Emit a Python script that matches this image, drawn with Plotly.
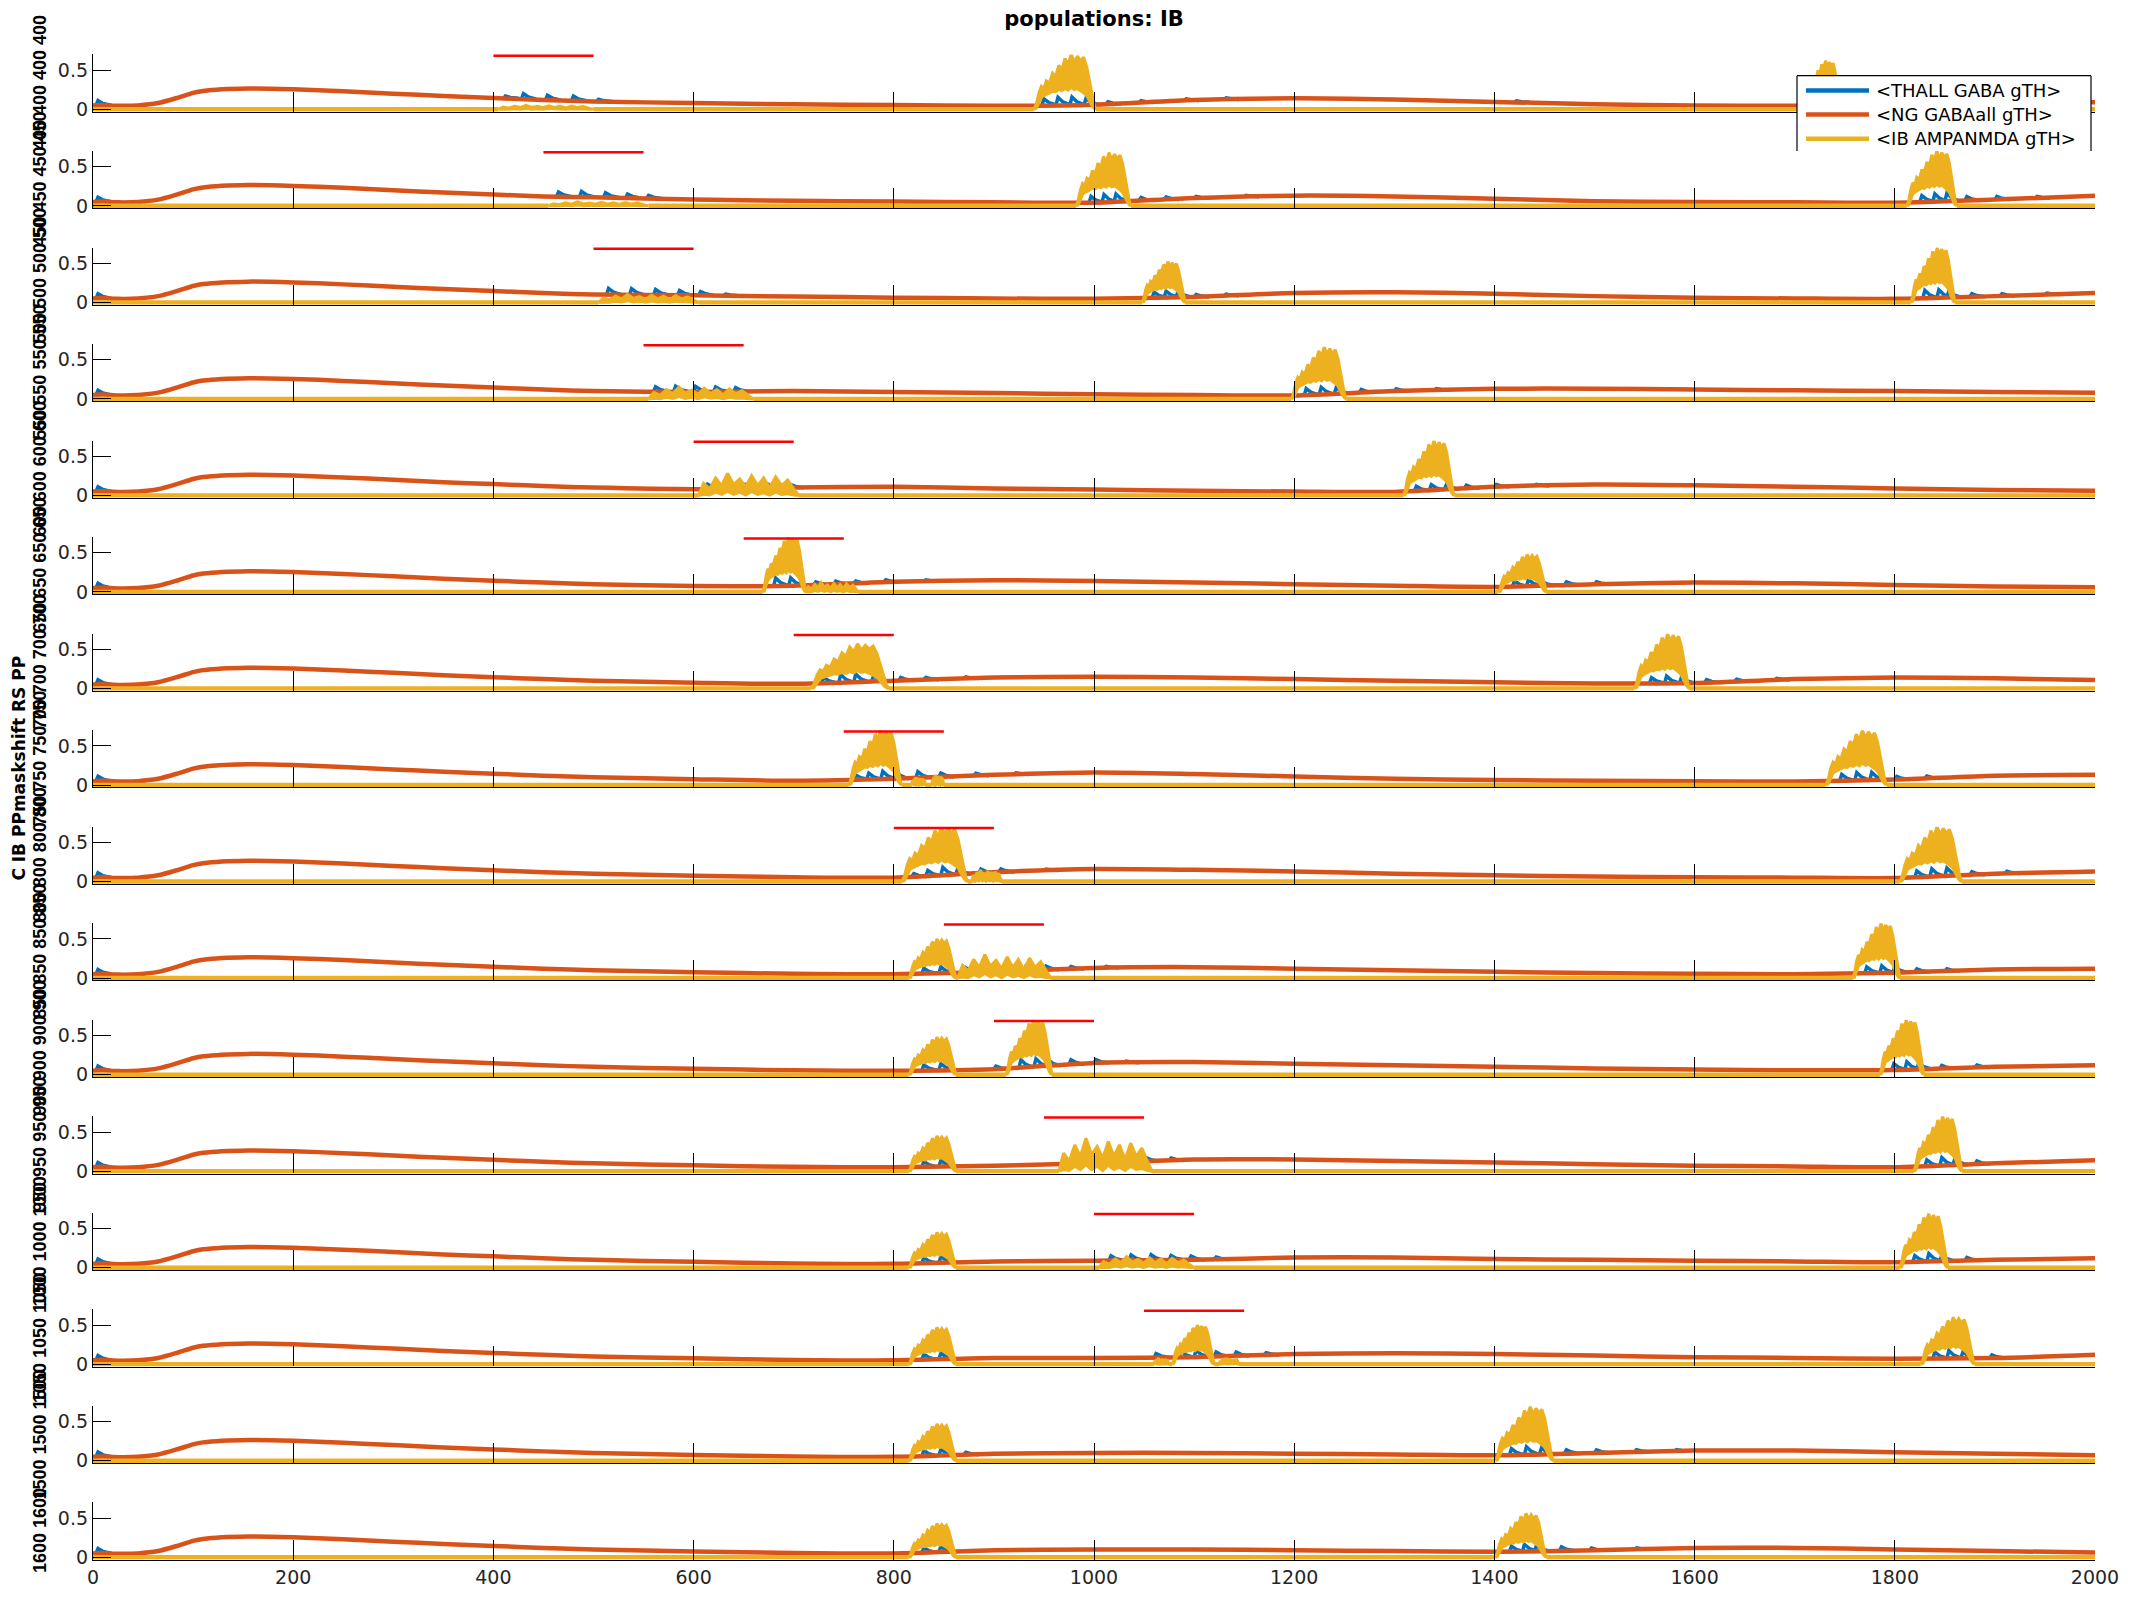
"""
populations: IB -- stacked gTH conductance traces, one panel per stimulus shift.

Each panel: THALL GABA (blue), NG GABAall (orange), IB AMPANMDA (yellow),
with the 100 ms stimulus window drawn as a red bar on top of the panel.
"""

import numpy as np
import plotly.graph_objects as go

# ---------------------------------------------------------------------------
# FIGURE GEOMETRY
# (the page body keeps its default 8px margin, so the figure is 8px smaller
#  and every pixel position below is given in window pixels)
# ---------------------------------------------------------------------------
PAGE_PAD = 8
FIG_W, FIG_H = 2133 - PAGE_PAD, 1600 - PAGE_PAD
M_LEFT, M_RIGHT, M_TOP, M_BOTTOM = 93 - PAGE_PAD, 38, 54 - PAGE_PAD, 16
PANEL_TOP_PX = 54.5
PANEL_STEP_PX = 98.07
PANEL_H_PX = 58.1
X_RANGE = [0, 2000]
Y_RANGE = [-0.03, 0.7]

BLUE = "#0072BD"
ORANGE = "#D95319"
YELLOW = "#EDB120"
RED = "#FF0000"
TXT = "#262626"
FONT = "DejaVu Sans"

# ---------------------------------------------------------------------------
# DATA
# ---------------------------------------------------------------------------
N_PANELS = 16
PANEL_VALUES = [400, 450, 500, 550, 600, 650, 700, 750, 800, 850, 900, 950,
                1000, 1050, 1500, 1600]
PANEL_LABEL_REPEAT = [4, 4, 4, 4, 4, 4, 4, 4, 4, 4, 4, 4, 3, 3, 3, 2]
STIM_ON = [400, 450, 500, 550, 600, 650, 700, 750, 800, 850, 900, 950,
           1000, 1050, None, None]
STIM_LEN = 100
STIM_LEVEL = 0.7

X_TICKS = [0, 200, 400, 600, 800, 1000, 1200, 1400, 1600, 1800, 2000]
Y_TICKS = [0, 0.5]
Y_TICKTEXT = ["0", "0.5"]

# orange (NG GABAall) sampled at these times
T_ORANGE = [0, 10, 25, 45, 65, 85, 100, 110, 155, 200, 250, 300, 350, 400,
            450, 500, 600, 700, 800, 900, 1000, 1100, 1200, 1300, 1400,
            1500, 1600, 1700, 1800, 1900, 2000]
ORANGE_EARLY = [0.05, 0.055, 0.045, 0.05, 0.08, 0.15, 0.21, 0.235, 0.265,
                0.255, 0.23, 0.2, 0.17, 0.145]
ORANGE_LATE = [
    [0.12, 0.10, 0.08, 0.065, 0.055, 0.045, 0.06, 0.12, 0.14, 0.125, 0.095, 0.065, 0.05, 0.045, 0.06, 0.09, 0.09],
    [0.12, 0.11, 0.08, 0.065, 0.055, 0.045, 0.04, 0.10, 0.13, 0.12, 0.09, 0.06, 0.05, 0.045, 0.04, 0.08, 0.13],
    [0.12, 0.10, 0.09, 0.075, 0.06, 0.05, 0.045, 0.07, 0.12, 0.13, 0.11, 0.08, 0.06, 0.05, 0.045, 0.08, 0.12],
    [0.12, 0.10, 0.09, 0.10, 0.09, 0.075, 0.06, 0.05, 0.045, 0.10, 0.13, 0.13, 0.12, 0.11, 0.10, 0.09, 0.08],
    [0.12, 0.10, 0.08, 0.10, 0.11, 0.09, 0.075, 0.06, 0.05, 0.045, 0.11, 0.14, 0.13, 0.11, 0.09, 0.07, 0.06],
    [0.12, 0.10, 0.075, 0.08, 0.13, 0.15, 0.14, 0.12, 0.10, 0.08, 0.065, 0.10, 0.12, 0.11, 0.09, 0.07, 0.06],
    [0.12, 0.10, 0.075, 0.06, 0.10, 0.14, 0.15, 0.14, 0.12, 0.10, 0.08, 0.065, 0.07, 0.12, 0.14, 0.13, 0.11],
    [0.12, 0.10, 0.075, 0.055, 0.08, 0.13, 0.16, 0.14, 0.11, 0.08, 0.065, 0.055, 0.05, 0.045, 0.07, 0.12, 0.13],
    [0.12, 0.10, 0.075, 0.055, 0.05, 0.12, 0.16, 0.15, 0.13, 0.10, 0.08, 0.065, 0.055, 0.05, 0.045, 0.10, 0.13],
    [0.12, 0.10, 0.075, 0.055, 0.05, 0.08, 0.13, 0.14, 0.12, 0.10, 0.08, 0.065, 0.055, 0.05, 0.07, 0.11, 0.12],
    [0.12, 0.10, 0.075, 0.055, 0.05, 0.07, 0.15, 0.16, 0.14, 0.12, 0.10, 0.08, 0.065, 0.055, 0.06, 0.10, 0.12],
    [0.12, 0.10, 0.075, 0.055, 0.05, 0.07, 0.10, 0.15, 0.15, 0.13, 0.11, 0.09, 0.07, 0.06, 0.05, 0.10, 0.14],
    [0.12, 0.10, 0.075, 0.055, 0.05, 0.08, 0.09, 0.10, 0.13, 0.13, 0.11, 0.10, 0.09, 0.08, 0.07, 0.10, 0.12],
    [0.12, 0.10, 0.075, 0.055, 0.05, 0.08, 0.08, 0.09, 0.13, 0.14, 0.13, 0.11, 0.09, 0.08, 0.07, 0.08, 0.12],
    [0.12, 0.10, 0.075, 0.055, 0.05, 0.09, 0.10, 0.10, 0.09, 0.08, 0.07, 0.10, 0.13, 0.13, 0.11, 0.09, 0.07],
    [0.12, 0.10, 0.075, 0.055, 0.05, 0.09, 0.10, 0.10, 0.09, 0.08, 0.07, 0.09, 0.12, 0.12, 0.10, 0.08, 0.06],
]

# yellow (IB AMPANMDA) bursts: (start ms, end ms, peak, shape)
YELLOW_BURSTS = [
    [(405, 500, 0.05, "low"), (940, 1002, 0.70, "big"), (1708, 1746, 0.62, "big")],
    [(455, 555, 0.05, "low"), (982, 1037, 0.68, "big"), (1812, 1862, 0.70, "big")],
    [(505, 605, 0.10, "low"), (1048, 1091, 0.52, "big"), (1816, 1860, 0.70, "big")],
    [(555, 660, 0.15, "low"), (1197, 1252, 0.66, "big")],
    [(605, 705, 0.28, "low"), (1309, 1360, 0.70, "big")],
    [(669, 712, 0.70, "big"), (712, 765, 0.12, "low"), (1404, 1452, 0.48, "big")],
    [(717, 795, 0.57, "big"), (1540, 1595, 0.70, "big")],
    [(755, 808, 0.70, "big"), (818, 832, 0.10, "low"), (838, 850, 0.13, "low"), (1731, 1792, 0.70, "big")],
    [(808, 874, 0.70, "big"), (878, 908, 0.15, "low"), (1805, 1867, 0.70, "big")],
    [(815, 862, 0.50, "big"), (864, 957, 0.30, "low"), (1758, 1805, 0.70, "big")],
    [(815, 862, 0.48, "big"), (912, 958, 0.70, "big"), (1785, 1829, 0.70, "big")],
    [(815, 862, 0.45, "big"), (965, 1058, 0.42, "low"), (1819, 1867, 0.70, "big")],
    [(815, 862, 0.45, "big"), (1005, 1100, 0.14, "low"), (1805, 1853, 0.69, "big")],
    [(815, 862, 0.47, "big"), (1060, 1075, 0.08, "low"), (1078, 1120, 0.50, "big"),
     (1125, 1145, 0.08, "low"), (1826, 1880, 0.60, "big")],
    [(815, 862, 0.47, "big"), (1401, 1459, 0.69, "big")],
    [(815, 862, 0.43, "big"), (1401, 1452, 0.56, "big")],
]

# burst outlines, read from one large burst (panel 8) and one noisy plateau (panel 10)
BIG_S = [0, .04, .08, .12, .16, .2, .25, .3, .35, .4, .45, .5, .55, .6, .65, .7, .75, .8, .85, .9, .94, .97, 1.0]
BIG_U = [0, .1, .3, .42, .38, .52, .48, .66, .6, .8, .72, .93, .82, 1.0, .86, .97, .88, .95, .78, .5, .25, .08, 0]
BIG_L = [0, .02, .12, .22, .25, .28, .3, .33, .32, .36, .34, .38, .35, .4, .36, .38, .34, .3, .25, .15, .06, .02, 0]
LOW_S = [0, .05, .11, .17, .23, .29, .35, .41, .47, .53, .59, .65, .71, .77, .83, .89, .95, 1.0]
LOW_U = [0, .55, .3, .8, .45, 1.0, .5, .75, .4, .9, .45, .8, .35, .85, .45, .7, .3, 0]
LOW_L = [0, .05, .02, .15, .05, .2, .05, .15, .02, .18, .05, .12, .02, .15, .05, .08, .02, 0]

# blue (THALL GABA) spikes: (time ms, height above the orange trace)
BLUE_SPIKES = [
    [(3, 0.06), (410, 0.03), (428, 0.07), (452, 0.06), (478, 0.06), (503, 0.03), (948, 0.08), (962, 0.1),
     (976, 0.1), (990, 0.08), (1012, 0.03), (1045, 0.025), (1090, 0.02), (1130, 0.02), (1420, 0.02),
     (1720, 0.08), (1735, 0.08), (1760, 0.03), (1800, 0.02)],
    [(3, 0.06), (463, 0.06), (486, 0.07), (510, 0.06), (532, 0.05), (553, 0.04), (995, 0.08), (1008, 0.1),
     (1020, 0.1), (1045, 0.04), (1070, 0.03), (1100, 0.02), (1150, 0.02), (1825, 0.08), (1838, 0.1),
     (1850, 0.1), (1870, 0.05), (1900, 0.04), (1940, 0.02)],
    [(3, 0.06), (513, 0.08), (536, 0.08), (560, 0.07), (584, 0.06), (605, 0.05), (630, 0.02), (1058, 0.07),
     (1070, 0.08), (1082, 0.08), (1100, 0.03), (1130, 0.02), (1828, 0.1), (1842, 0.1), (1852, 0.08),
     (1875, 0.04), (1905, 0.03), (1950, 0.02)],
    [(3, 0.06), (560, 0.06), (580, 0.07), (600, 0.07), (620, 0.06), (640, 0.05), (1210, 0.08), (1225, 0.09),
     (1240, 0.08), (1265, 0.04), (1300, 0.03), (1340, 0.02)],
    [(3, 0.06), (612, 0.06), (630, 0.05), (650, 0.05), (672, 0.05), (695, 0.04), (1320, 0.06), (1335, 0.07),
     (1350, 0.06), (1370, 0.04), (1400, 0.03), (1440, 0.02)],
    [(3, 0.06), (680, 0.1), (695, 0.1), (720, 0.04), (740, 0.04), (760, 0.03), (790, 0.03), (830, 0.02),
     (1418, 0.07), (1432, 0.08), (1445, 0.06), (1470, 0.04), (1500, 0.03)],
    [(3, 0.06), (728, 0.07), (745, 0.1), (760, 0.1), (778, 0.08), (805, 0.04), (830, 0.03), (870, 0.02),
     (1555, 0.07), (1570, 0.09), (1585, 0.08), (1610, 0.04), (1640, 0.03), (1680, 0.02)],
    [(3, 0.06), (760, 0.06), (773, 0.08), (787, 0.1), (800, 0.1), (822, 0.08), (845, 0.05), (880, 0.03),
     (920, 0.02), (1745, 0.08), (1760, 0.1), (1775, 0.1), (1800, 0.04), (1830, 0.03)],
    [(3, 0.06), (818, 0.04), (832, 0.07), (847, 0.1), (862, 0.08), (885, 0.05), (905, 0.04), (950, 0.02),
     (1820, 0.08), (1835, 0.1), (1850, 0.1), (1875, 0.04), (1910, 0.03)],
    [(3, 0.06), (828, 0.07), (845, 0.08), (870, 0.06), (890, 0.07), (910, 0.06), (930, 0.06), (950, 0.05),
     (975, 0.03), (1010, 0.02), (1770, 0.08), (1785, 0.09), (1798, 0.08), (1820, 0.04), (1850, 0.03)],
    [(3, 0.06), (828, 0.07), (845, 0.08), (900, 0.04), (925, 0.1), (940, 0.1), (952, 0.08), (975, 0.06),
     (1000, 0.04), (1030, 0.02), (1797, 0.08), (1810, 0.1), (1822, 0.08), (1845, 0.04), (1880, 0.03)],
    [(3, 0.06), (828, 0.07), (845, 0.08), (975, 0.06), (995, 0.08), (1015, 0.08), (1035, 0.07), (1050, 0.05),
     (1075, 0.03), (1830, 0.08), (1845, 0.1), (1858, 0.08), (1880, 0.04)],
    [(3, 0.06), (828, 0.07), (845, 0.08), (1015, 0.06), (1035, 0.07), (1055, 0.07), (1075, 0.06),
     (1095, 0.05), (1120, 0.03), (1818, 0.08), (1832, 0.1), (1845, 0.08), (1870, 0.04)],
    [(3, 0.06), (828, 0.07), (845, 0.08), (1060, 0.05), (1085, 0.08), (1100, 0.09), (1120, 0.06),
     (1140, 0.05), (1170, 0.03), (1838, 0.08), (1852, 0.1), (1866, 0.08), (1895, 0.04)],
    [(3, 0.06), (828, 0.07), (845, 0.08), (870, 0.03), (1415, 0.08), (1430, 0.1), (1445, 0.08),
     (1470, 0.05), (1500, 0.04), (1540, 0.03), (1580, 0.02)],
    [(3, 0.06), (828, 0.06), (845, 0.07), (1415, 0.07), (1428, 0.09), (1440, 0.07), (1465, 0.05),
     (1495, 0.03), (1540, 0.02)],
]

LEGEND_LABELS = ["&lt;THALL GABA gTH&gt;", "&lt;NG GABAall gTH&gt;", "&lt;IB AMPANMDA gTH&gt;"]
LEGEND_COLORS = [BLUE, ORANGE, YELLOW]


# ---------------------------------------------------------------------------
# HELPERS
# ---------------------------------------------------------------------------
PLOT_W = FIG_W - M_LEFT - M_RIGHT
PLOT_H = FIG_H - M_TOP - M_BOTTOM


def px_x(px):
    """window pixel -> paper x"""
    return (px - PAGE_PAD - M_LEFT) / PLOT_W


def px_y(py):
    """window pixel -> paper y"""
    return (FIG_H - M_BOTTOM - (py - PAGE_PAD)) / PLOT_H


def burst_outline(start, end, peak, kind):
    s, u, l = (BIG_S, BIG_U, BIG_L) if kind == "big" else (LOW_S, LOW_U, LOW_L)
    dur = end - start
    xs = [start + v * dur for v in s]
    xs = xs + xs[::-1]
    ys = [peak * v for v in u] + [peak * v for v in l][::-1]
    return xs, ys


fig = go.Figure()
layout_axes = {}
shapes = []
annotations = []

for k in range(N_PANELS):
    sfx = "" if k == 0 else str(k + 1)
    xa, ya = f"x{sfx}", f"y{sfx}"
    orange_y = ORANGE_EARLY + ORANGE_LATE[k]

    # blue spikes sit on top of the orange trace
    bx, by = [], []
    for t, h in BLUE_SPIKES[k]:
        base = float(np.interp(t, T_ORANGE, orange_y))
        bx += [t, t + 2, t + 7, t + 15, None]
        by += [base, base + h, base + 0.4 * h, base, None]
    fig.add_trace(go.Scatter(x=bx, y=by, mode="lines", xaxis=xa, yaxis=ya,
                             line=dict(color=BLUE, width=3.5), showlegend=False,
                             hoverinfo="skip"))

    fig.add_trace(go.Scatter(x=T_ORANGE, y=orange_y, mode="lines", xaxis=xa, yaxis=ya,
                             line=dict(color=ORANGE, width=4.5, shape="spline", smoothing=0.7),
                             showlegend=False, hoverinfo="skip"))

    # yellow: flat at zero between bursts, filled outline during bursts
    bursts = sorted(YELLOW_BURSTS[k])
    zx, zy = [0], [0]
    for b in bursts:
        zx += [b[0], None, b[1]]
        zy += [0, None, 0]
    zx.append(2000)
    zy.append(0)
    fig.add_trace(go.Scatter(x=zx, y=zy, mode="lines", xaxis=xa, yaxis=ya,
                             line=dict(color=YELLOW, width=4.5), showlegend=False,
                             hoverinfo="skip"))
    for b in bursts:
        px_, py_ = burst_outline(*b)
        fig.add_trace(go.Scatter(x=px_, y=py_, mode="lines", xaxis=xa, yaxis=ya,
                                 fill="toself", fillcolor=YELLOW,
                                 line=dict(color=YELLOW, width=3), showlegend=False,
                                 hoverinfo="skip"))

    if STIM_ON[k] is not None:
        shapes.append(dict(type="line", xref=xa, yref=ya, x0=STIM_ON[k],
                           x1=STIM_ON[k] + STIM_LEN, y0=STIM_LEVEL, y1=STIM_LEVEL,
                           line=dict(color=RED, width=5)))

    top_px = PANEL_TOP_PX + PANEL_STEP_PX * k
    bot_px = top_px + PANEL_H_PX
    dom = [max(0.0, px_y(bot_px)), min(1.0, px_y(top_px))]
    last = k == N_PANELS - 1
    layout_axes[f"xaxis{sfx}"] = dict(
        domain=[0, 1], anchor=ya, range=X_RANGE, showgrid=False, zeroline=False,
        showline=True, linecolor="black", linewidth=1.3,
        ticks="inside", ticklen=20, tickwidth=1.3, tickcolor="black",
        tickvals=X_TICKS, showticklabels=last,
        tickfont=dict(family=FONT, size=19, color=TXT),
    )
    layout_axes[f"yaxis{sfx}"] = dict(
        domain=dom, anchor=xa, range=Y_RANGE, showgrid=False, zeroline=False,
        showline=True, linecolor="black", linewidth=1.3,
        ticks="inside", ticklen=18, tickwidth=1.3, tickcolor="black",
        tickvals=Y_TICKS, ticktext=Y_TICKTEXT,
        tickfont=dict(family=FONT, size=19, color=TXT),
    )

    # per-panel y label (they overlap each other, as in the original)
    v = PANEL_VALUES[k]
    annotations.append(dict(
        xref="paper", yref="paper", x=px_x(40), y=px_y((top_px + bot_px) / 2),
        text=" ".join([str(v)] * PANEL_LABEL_REPEAT[k]), showarrow=False, textangle=-90,
        font=dict(family="Liberation Sans", size=18, color="black", weight="bold"),
        xanchor="center", yanchor="middle",
    ))

# shared y label
annotations.append(dict(
    xref="paper", yref="paper", x=px_x(19), y=px_y(780),
    text="C IB PPmaskshift RS PP", showarrow=False, textangle=-90,
    font=dict(family=FONT, size=17, color="black", weight="bold"),
    xanchor="center", yanchor="middle",
))

# legend box (bottom edge hidden under the second panel)
LX0, LX1, LY0, LY1 = 1797, 2091, 76, 152.5
shapes.append(dict(type="rect", xref="paper", yref="paper", x0=px_x(LX0), x1=px_x(LX1),
                   y0=px_y(LY1), y1=px_y(LY0), fillcolor="white", line=dict(width=0),
                   layer="above"))
for (ax0, ay0, ax1, ay1) in [(LX0, LY0, LX1, LY0), (LX0, LY0, LX0, LY1), (LX1, LY0, LX1, LY1)]:
    shapes.append(dict(type="line", xref="paper", yref="paper", x0=px_x(ax0), y0=px_y(ay0),
                       x1=px_x(ax1), y1=px_y(ay1), line=dict(color="black", width=1.2),
                       layer="above"))
for i, (lab, col) in enumerate(zip(LEGEND_LABELS, LEGEND_COLORS)):
    row_y = 91 + 24.5 * i
    shapes.append(dict(type="line", xref="paper", yref="paper", x0=px_x(1806), x1=px_x(1869),
                       y0=px_y(row_y), y1=px_y(row_y), line=dict(color=col, width=4.5),
                       layer="above"))
    annotations.append(dict(xref="paper", yref="paper", x=px_x(1874), y=px_y(row_y),
                            text=lab, showarrow=False, xanchor="left", yanchor="middle",
                            font=dict(family=FONT, size=18, color="black")))

fig.update_layout(
    width=FIG_W,
    height=FIG_H,
    margin=dict(l=M_LEFT, r=M_RIGHT, t=M_TOP, b=M_BOTTOM, pad=0),
    paper_bgcolor="white",
    plot_bgcolor="white",
    showlegend=False,
    title=dict(text="<b>populations: IB</b>", x=0.5, xref="paper", xanchor="center",
               y=1 - (19 - PAGE_PAD) / FIG_H, yref="container", yanchor="middle",
               font=dict(family=FONT, size=21, color="black")),
    shapes=shapes,
    annotations=annotations,
    **layout_axes,
)

fig.write_html("out.html")
